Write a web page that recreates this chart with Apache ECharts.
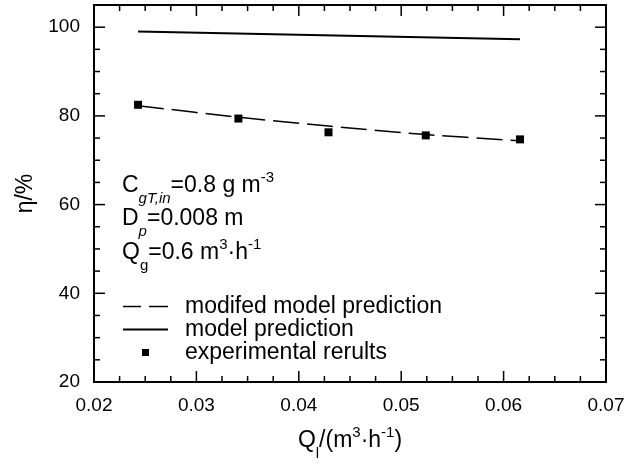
<!DOCTYPE html>
<html>
<head>
<meta charset="utf-8">
<script src="https://cdn.jsdelivr.net/npm/echarts@6/dist/echarts.min.js"></script>
<style>
  html, body { margin: 0; padding: 0; background: #fff; }
  #chart { width: 632px; height: 468px; }
</style>
</head>
<body>
<div id="chart"></div>
<script>
// liquid flow rate Q_l (m3/h) and removal efficiency (%)
var qlExp = [0.0243, 0.0341, 0.0429, 0.0524, 0.0616];
var etaExp = [82.5, 79.4, 76.3, 75.6, 74.7];
var etaModified = [82.3, 79.7, 77.7, 75.8, 74.4];
var qlModel = [0.0243, 0.0616];
var etaModel = [99.0, 97.3];

// tick values of the frame (major ones carry the labels)
var xMajorTicks = [0.03, 0.04, 0.05, 0.06];
var xMinorTicks = [0.0225, 0.025, 0.0275, 0.0325, 0.035, 0.0375, 0.0425, 0.045, 0.0475,
    0.0525, 0.055, 0.0575, 0.0625, 0.065, 0.0675];
var yMajorTicks = [40, 60, 80, 100];
var yMinorTicks = [25, 30, 35, 45, 50, 55, 65, 70, 75, 85, 90, 95];

var X_MIN = 0.02, X_MAX = 0.07, Y_MIN = 20, Y_MAX = 105;
var FONT = 'Liberation Sans, Arial, sans-serif';

var pairs = function (xs, ys) {
    return xs.map(function (x, i) { return [x, ys[i]]; });
};

// sub/superscripts, shifted by padding around the line centre
var subSup = {
    sub: {fontSize: 15, fontFamily: FONT, color: '#000', verticalAlign: 'middle', lineHeight: 16, padding: [26, 0, 0, 0]},
    subi: {fontSize: 15, fontFamily: FONT, color: '#000', fontStyle: 'italic', verticalAlign: 'middle', lineHeight: 16, padding: [26, 0, 0, 0]},
    sup: {fontSize: 15, fontFamily: FONT, color: '#000', verticalAlign: 'middle', lineHeight: 16, padding: [0, 0, 16, 0]},
    n: {fontSize: 23, fontFamily: FONT, color: '#000', verticalAlign: 'middle', lineHeight: 30}
};

var tickLine = function (x1, y1, x2, y2) {
    return {type: 'line', shape: {x1: x1, y1: y1, x2: x2, y2: y2}, style: {stroke: '#000', lineWidth: 1.5}};
};

// inward ticks on both opposite sides, placed through the axis scales
var xTickSeries = function (values, len) {
    return {
        type: 'custom', silent: true, z: 5,
        data: values.map(function (v) { return [v, Y_MIN]; }),
        renderItem: function (params, api) {
            var b = api.coord([api.value(0), Y_MIN]);
            var t = api.coord([api.value(0), Y_MAX]);
            return {type: 'group', children: [
                tickLine(b[0], b[1], b[0], b[1] - len),
                tickLine(t[0], t[1], t[0], t[1] + len)
            ]};
        }
    };
};
var yTickSeries = function (values, len) {
    return {
        type: 'custom', silent: true, z: 5,
        data: values.map(function (v) { return [X_MIN, v]; }),
        renderItem: function (params, api) {
            var l = api.coord([X_MIN, api.value(1)]);
            var r = api.coord([X_MAX, api.value(1)]);
            return {type: 'group', children: [
                tickLine(l[0], l[1], l[0] + len, l[1]),
                tickLine(r[0], r[1], r[0] - len, r[1])
            ]};
        }
    };
};

var chart = echarts.init(document.getElementById('chart'));
chart.setOption({
    animation: false,
    backgroundColor: '#fff',
    grid: {left: 94, right: 26, top: 5, bottom: 86, show: true, borderColor: '#000', borderWidth: 2},
    xAxis: {
        type: 'value', min: X_MIN, max: X_MAX, interval: 0.01,
        name: '{n|Q}{sub|l}{n|/(m}{sup|3}{n|·h}{sup|-1}{n|)}',
        nameLocation: 'middle', nameGap: 38,
        nameTextStyle: {fontSize: 23, fontFamily: FONT, color: '#000', rich: subSup},
        splitLine: {show: false},
        axisLine: {show: true, onZero: false, lineStyle: {color: '#000', width: 2}},
        axisTick: {show: false},
        axisLabel: {show: true, fontSize: 19, fontFamily: FONT, color: '#000', margin: 14}
    },
    yAxis: {
        type: 'value', min: Y_MIN, max: Y_MAX, interval: 20,
        name: 'η/%', nameLocation: 'middle', nameGap: 50,
        nameTextStyle: {fontSize: 23, fontFamily: FONT, color: '#000'},
        splitLine: {show: false},
        axisLine: {show: true, onZero: false, lineStyle: {color: '#000', width: 2}},
        axisTick: {show: false},
        axisLabel: {
            show: true, fontSize: 19, fontFamily: FONT, color: '#000', margin: 14,
            formatter: function (v) { return v % 20 === 0 ? String(v) : ''; }
        }
    },
    legend: {
        orient: 'vertical', left: 118, top: 290,
        itemWidth: 45, itemHeight: 8, itemGap: 0,
        selectedMode: false,
        textStyle: {fontSize: 23, fontFamily: FONT, color: '#000', lineHeight: 23, padding: [0, 0, 0, 12]},
        data: [
            {name: 'modifed model prediction', icon: 'path://M0,0M90,16M0,6.5h36v3h-36zM52,6.5h38v3h-38z'},
            {name: 'model prediction', icon: 'path://M0,0M90,16M0,6h90v4h-90z'},
            {name: 'experimental rerults', icon: 'path://M0,0M90,16M38,1h14v14h-14z'}
        ]
    },
    graphic: [{
        type: 'text', x: 122, y: 186,
        style: {
            text: '{n|C}{subi|gT,in}{n|=0.8 g m}{sup|-3}',
            fontSize: 23, fontFamily: FONT, fill: '#000',
            verticalAlign: 'middle', rich: subSup
        }
    }, {
        type: 'text', x: 122, y: 219,
        style: {
            text: '{n|D}{subi|p}{n|=0.008 m}',
            fontSize: 23, fontFamily: FONT, fill: '#000',
            verticalAlign: 'middle', rich: subSup
        }
    }, {
        type: 'text', x: 122, y: 253,
        style: {
            text: '{n|Q}{sub|g}{n|=0.6 m}{sup|3}{n|·h}{sup|-1}',
            fontSize: 23, fontFamily: FONT, fill: '#000',
            verticalAlign: 'middle', rich: subSup
        }
    }],
    series: [{
        name: 'modifed model prediction',
        type: 'line',
        data: pairs(qlExp, etaModified),
        smooth: 0.3,
        symbol: 'none',
        lineStyle: {color: '#000', width: 1.5, type: [26, 8]},
        itemStyle: {color: '#000'}
    }, {
        name: 'model prediction',
        type: 'line',
        data: pairs(qlModel, etaModel),
        symbol: 'none',
        lineStyle: {color: '#000', width: 2, type: 'solid'},
        itemStyle: {color: '#000'}
    }, {
        name: 'experimental rerults',
        type: 'scatter',
        data: pairs(qlExp, etaExp),
        symbol: 'rect',
        symbolSize: 8,
        itemStyle: {color: '#000', opacity: 1}
    },
        xTickSeries(xMajorTicks, 11),
        xTickSeries(xMinorTicks, 6),
        yTickSeries(yMajorTicks, 11),
        yTickSeries(yMinorTicks, 6)
    ]
});
</script>
</body>
</html>
